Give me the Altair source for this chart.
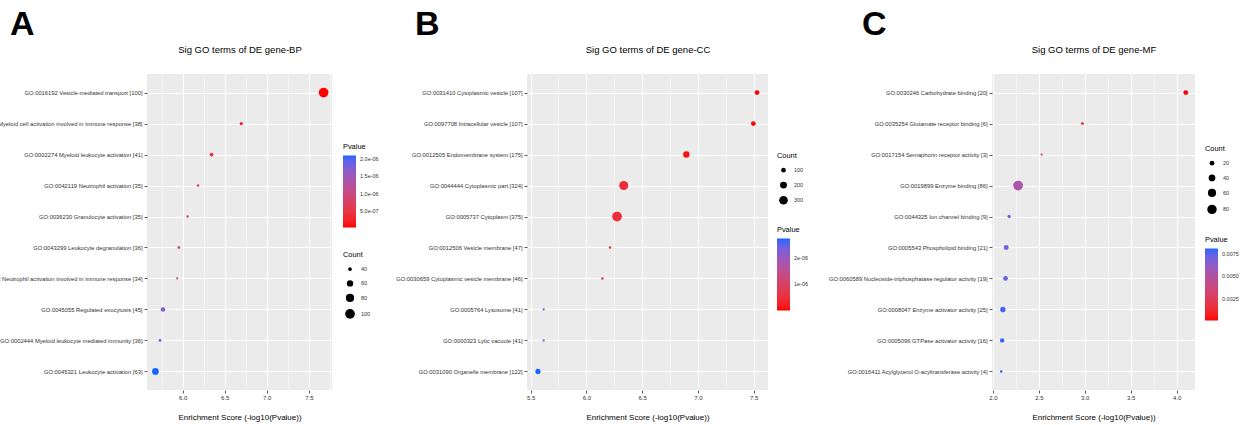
import math
import altair as alt
import pandas as pd

FONT = "Liberation Sans"

# ---------------- data ----------------
A_terms = [
    "GO:0016192 Vesicle-mediated transport [100]",
    "GO:0002275 Myeloid cell activation involved in immune response [38]",
    "GO:0002274 Myeloid leukocyte activation [41]",
    "GO:0042119 Neutrophil activation [35]",
    "GO:0036230 Granulocyte activation [35]",
    "GO:0043299 Leukocyte degranulation [36]",
    "GO:0002283 Neutrophil activation involved in immune response [34]",
    "GO:0045055 Regulated exocytosis [45]",
    "GO:0002444 Myeloid leukocyte mediated immunity [36]",
    "GO:0045321 Leukocyte activation [63]",
]
A_score = [7.675, 6.697, 6.344, 6.184, 6.060, 5.956, 5.936, 5.767, 5.732, 5.677]
A_count = [100, 38, 41, 35, 35, 36, 34, 45, 36, 63]

B_terms = [
    "GO:0031410 Cytoplasmic vesicle [107]",
    "GO:0097708 Intracellular vesicle [107]",
    "GO:0012505 Endomembrane system [175]",
    "GO:0044444 Cytoplasmic part [324]",
    "GO:0005737 Cytoplasm [375]",
    "GO:0012506 Vesicle membrane [47]",
    "GO:0030659 Cytoplasmic vesicle membrane [46]",
    "GO:0005764 Lysosome [41]",
    "GO:0000323 Lytic vacuole [41]",
    "GO:0031090 Organelle membrane [122]",
]
B_score = [7.530, 7.497, 6.896, 6.335, 6.275, 6.212, 6.144, 5.617, 5.617, 5.566]
B_count = [107, 107, 175, 324, 375, 47, 46, 41, 41, 122]

C_terms = [
    "GO:0030246 Carbohydrate binding [20]",
    "GO:0035254 Glutamate receptor binding [6]",
    "GO:0017154 Semaphorin receptor activity [3]",
    "GO:0019899 Enzyme binding [86]",
    "GO:0044325 Ion channel binding [9]",
    "GO:0005543 Phospholipid binding [21]",
    "GO:0060589 Nucleoside-triphosphatase regulator activity [19]",
    "GO:0008047 Enzyme activator activity [25]",
    "GO:0005096 GTPase activator activity [16]",
    "GO:0016411 Acylglycerol O-acyltransferase activity [4]",
]
C_score = [4.100, 2.974, 2.530, 2.274, 2.176, 2.144, 2.137, 2.108, 2.100, 2.090]
C_count = [20, 6, 3, 86, 9, 21, 19, 25, 16, 4]

PANEL_H = 316
MAJOR_TEST = "abs(datum.value * 2 - round(datum.value * 2)) < 0.000001"
TXT = "#333333"


def panel(terms, score, count, title, letter, letter_dx, width,
          p_values, p_expr, count_values, p_xy, c_xy, row_pad):
    df = pd.DataFrame({"term": terms, "score": score, "Count": count})
    lo, hi = min(score), max(score)
    pad = 0.05 * (hi - lo)
    dom = [lo - pad, hi + pad]
    vals = []
    v = math.ceil(dom[0] * 4) / 4
    while v <= dom[1] + 1e-9:
        vals.append(round(v, 2))
        v += 0.25

    x_axis = alt.Axis(
        values=vals,
        labelExpr=f"{MAJOR_TEST} ? format(datum.value, '.1f') : ''",
        tickOpacity={"condition": {"test": MAJOR_TEST, "value": 1}, "value": 0},
        gridWidth={"condition": {"test": MAJOR_TEST, "value": 1}, "value": 0.5},
        gridColor="white", domain=False, tickSize=3, tickColor="#333333",
        tickWidth=0.8, labelFont=FONT, labelFontSize=6, labelColor=TXT,
        labelPadding=1.5, labelFlush=False, labelOverlap=False,
        title="Enrichment Score (-log10(Pvalue))", titleFont=FONT,
        titleFontSize=8, titleFontWeight="normal", titleColor="black",
        titleY=29, titleBaseline="alphabetic",
    )
    y_axis = alt.Axis(
        title=title, titleAngle=0, titleX=width / 2, titleY=-22,
        titleAlign="center", titleBaseline="alphabetic", titleFont=FONT,
        titleFontSize=9.5, titleFontWeight="normal", titleColor="black",
        labelFont=FONT, labelFontSize=5.8, labelColor=TXT,
        labelPadding=2, labelLimit=600, tickSize=3, tickColor="#333333",
        tickWidth=0.8, domain=False, grid=True, gridColor="white", gridWidth=1,
    )
    p_legend = alt.Legend(
        orient="none", legendX=p_xy[0], legendY=p_xy[1], direction="vertical",
        title="Pvalue", titleFont=FONT, titleFontSize=7.4,
        titleFontWeight="normal", titleColor="black", titlePadding=5,
        gradientLength=72, gradientThickness=13, gradientStrokeWidth=0,
        values=p_values, labelExpr=p_expr, labelFont=FONT, labelFontSize=5.5,
        labelColor=TXT, labelOffset=4, labelOverlap=False, padding=0,
    )
    c_legend = alt.Legend(
        orient="none", legendX=c_xy[0], legendY=c_xy[1], direction="vertical",
        title="Count", titleFont=FONT, titleFontSize=7.4,
        titleFontWeight="normal", titleColor="black", titlePadding=8,
        values=count_values, symbolType="circle", symbolFillColor="black",
        symbolStrokeWidth=0, symbolOpacity=1, symbolOffset=2,
        labelFont=FONT, labelFontSize=5.5,
        labelColor=TXT, labelOffset=6, rowPadding=row_pad, padding=0,
    )
    return (
        alt.Chart(df)
        .transform_calculate(Pvalue="pow(10, -datum.score)")
        .mark_circle(opacity=1)
        .encode(
            x=alt.X("score:Q", scale=alt.Scale(domain=dom, nice=False, zero=False), axis=x_axis),
            y=alt.Y("term:N", sort=terms, scale=alt.Scale(padding=0.6), axis=y_axis),
            color=alt.Color("Pvalue:Q", scale=alt.Scale(range=["#FF0000", "#1766FF"], interpolate="lab",
                                                          zero=False, nice=False), legend=p_legend),
            size=alt.Size("Count:Q", scale=alt.Scale(range=[5, 95], zero=False), legend=c_legend),
        )
        .properties(
            width=width, height=PANEL_H,
            title=alt.TitleParams(letter, anchor="start", frame="group", dx=letter_dx,
                                  fontSize=34, fontWeight="bold", font=FONT,
                                  color="black", offset=2),
            view=alt.ViewBackground(fill="#EBEBEB", strokeWidth=0),
        )
    )


def spacer(w):
    return (
        alt.Chart(pd.DataFrame({"s": [0]}))
        .mark_point(opacity=0)
        .properties(width=w, height=PANEL_H,
                    view=alt.ViewBackground(fill="transparent", strokeWidth=0))
    )


pA = panel(A_terms, A_score, A_count, "Sig GO terms of DE gene-BP", "A", -137, 185,
           [5e-7, 1e-6, 1.5e-6, 2e-6], "replace(format(datum.value, '.1e'), 'e-', 'e-0')",
           [40, 60, 80, 100], (196, 69), (196, 177), 6.5)
pB = panel(B_terms, B_score, B_count, "Sig GO terms of DE gene-CC", "B", -112, 241,
           [1e-6, 2e-6], "replace(format(datum.value, '.0e'), 'e-', 'e-0')",
           [100, 200, 300], (250, 152), (250, 78), 7.2)
pC = panel(C_terms, C_score, C_count, "Sig GO terms of DE gene-MF", "C", -130, 203,
           [0.0025, 0.005, 0.0075], "format(datum.value, '.4f')",
           [20, 40, 60, 80], (213, 162), (213, 71), 7.0)

chart = (
    alt.hconcat(pA, spacer(195), pB, spacer(224), pC, spacing=0, bounds="flush")
    .resolve_scale(x="independent", y="independent", color="independent", size="independent")
    .properties(
        autosize=alt.AutoSizeParams(type="none"),
        padding={"left": 147, "top": 74, "right": 1112, "bottom": 351},
        background="white",
    )
    .configure_view(strokeWidth=0)
)

chart.save("out.html", embed_options={"renderer": "svg", "actions": False})
